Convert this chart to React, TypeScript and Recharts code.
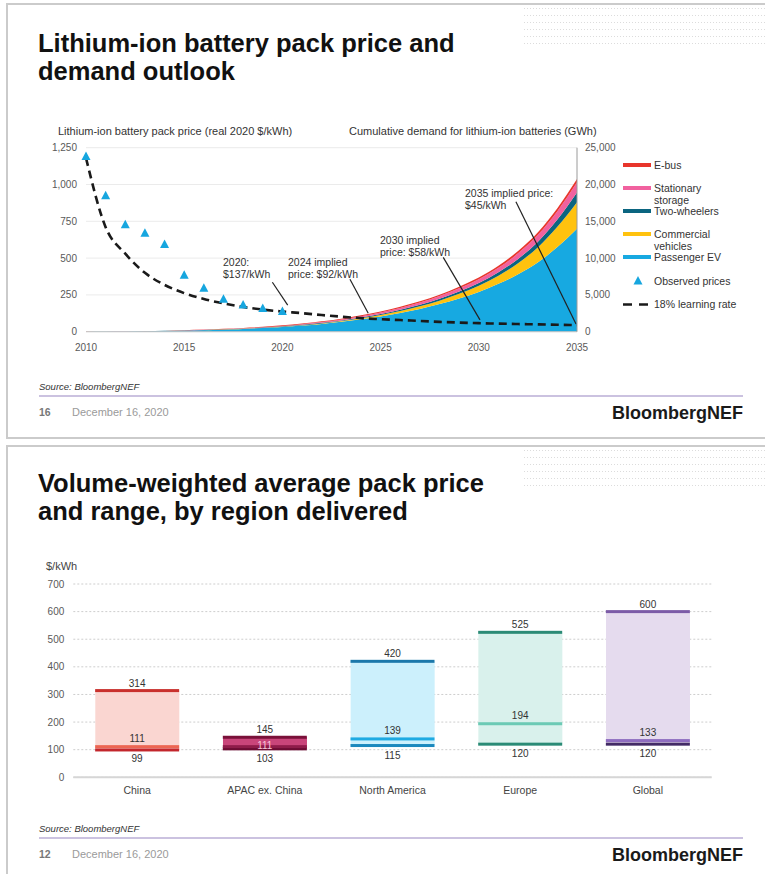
import React from "react"
import {
  ComposedChart,
  Area,
  Line,
  Scatter,
  Bar,
  Cell,
  XAxis,
  YAxis,
  CartesianGrid,
  ReferenceLine,
} from "recharts"

// ---- slide 1: pack price and demand outlook ----
const years = [
  2010, 2011, 2012, 2013, 2014, 2015, 2016, 2017, 2018, 2019, 2020, 2021, 2022,
  2023, 2024, 2025, 2026, 2027, 2028, 2029, 2030, 2031, 2032, 2033, 2034, 2035,
]
// cumulative demand, GWh
const passengerEV = [
  5, 15, 30, 55, 90, 135, 195, 270, 370, 490, 640, 830, 1060, 1340, 1680, 2080,
  2550, 3100, 3750, 4520, 5400, 6500, 7800, 9400, 11500, 14000,
]
const commercialVehicles = [
  1, 2, 3, 4, 6, 8, 11, 15, 20, 27, 36, 50, 70, 100, 140, 190, 260, 350, 470,
  630, 830, 1100, 1500, 2050, 2750, 3600,
]
const twoWheelers = [
  3, 6, 10, 14, 18, 23, 28, 34, 40, 47, 55, 65, 78, 95, 115, 140, 170, 205, 250,
  310, 380, 470, 590, 750, 980, 1300,
]
const stationaryStorage = [
  1, 2, 3, 5, 7, 10, 15, 22, 31, 42, 56, 74, 96, 124, 158, 198, 245, 300, 365,
  440, 520, 620, 760, 930, 1150, 1400,
]
const eBus = [
  1, 3, 6, 10, 16, 25, 35, 45, 55, 65, 78, 90, 102, 115, 128, 142, 158, 175, 195,
  220, 245, 275, 310, 350, 400, 450,
]
// $/kWh
const learningRate = [
  1180, 710, 530, 400, 318, 262, 222, 192, 168, 150, 137, 126, 113, 102, 92, 85,
  79, 73, 67, 62, 58, 55, 52, 50, 47, 45,
]
const observedYears = [2010, 2011, 2012, 2013, 2014, 2015, 2016, 2017, 2018, 2019, 2020]
const observedPrices = [1191, 924, 726, 668, 592, 384, 295, 221, 181, 157, 137]

const yearTicks = [2010, 2015, 2020, 2025, 2030, 2035]
const priceTicks = [0, 250, 500, 750, 1000, 1250]
const demandTicks = [0, 5000, 10000, 15000, 20000, 25000]

// leader lines of the callouts, in (year, $/kWh)
const leaders = [
  [2019.49, 336, 2020.27, 181],
  [2023.44, 356, 2024.37, 125],
  [2028.19, 505, 2030.06, 80],
  [2031.89, 883, 2034.95, 52],
]

// ---- slide 2: price range by region ----
const regions = ["China", "APAC ex. China", "North America", "Europe", "Global"]
const minPrice = [99, 103, 115, 120, 120]
const avgPrice = [111, 111, 139, 194, 133]
const maxPrice = [314, 145, 420, 525, 600]
const rangeTicks = [0, 100, 200, 300, 400, 500, 600, 700]
const boundaryTicks = [0, 1, 2, 3, 4, 5]

const boxFill = ["#fad6d1", "#c9457a", "#ccf0fc", "#d9f1ec", "#e5dbee"]
const topColor = ["#c9302c", "#7a1039", "#1b78aa", "#2b8b76", "#7c5ba7"]
const avgColor = ["#ec6652", "#8f1c4a", "#1eaae2", "#6ccab5", "#8f6dc0"]
const lowColor = ["#c3262c", "#6c0c33", "#1b88bd", "#2b8b76", "#432b66"]
const avgLabelColor = ["#333", "#f8c8da", "#333", "#333", "#333"]
const avgLabelDy = [-5, 2.5, -5, -5, -5]

const FONT = "'Liberation Sans', Arial, sans-serif"

const demandRows = years.map((year, i) => ({
  year,
  passengerEV: passengerEV[i],
  commercial: commercialVehicles[i],
  twoWheelers: twoWheelers[i],
  stationary: stationaryStorage[i],
  eBus: eBus[i],
  learning: learningRate[i],
}))
const observedRows = observedYears.map((year, i) => ({ year, price: observedPrices[i] }))

const regionRows = regions.map((region, i) => ({
  region,
  range: [minPrice[i], maxPrice[i]],
  min: minPrice[i],
  avg: avgPrice[i],
  max: maxPrice[i],
}))

function T({
  x,
  y,
  size = 10.5,
  color = "#333",
  lh,
  bold,
  italic,
  children,
}: {
  x: number
  y: number
  size?: number
  color?: string
  lh?: number
  bold?: boolean
  italic?: boolean
  children: React.ReactNode
}) {
  const h = lh ?? Math.round(size * 1.2)
  return (
    <div
      style={{
        position: "absolute",
        left: x,
        top: y - h / 2,
        fontSize: size,
        lineHeight: `${h}px`,
        color,
        whiteSpace: "nowrap",
        fontWeight: bold ? 700 : 400,
        fontStyle: italic ? "italic" : "normal",
      }}
    >
      {children}
    </div>
  )
}

function Frame({ top, height }: { top: number; height: number }) {
  return (
    <>
      <div
        style={{
          position: "absolute",
          left: 6,
          top,
          width: 800,
          height,
          border: "2px solid #cbcbcb",
          boxSizing: "border-box",
        }}
      />
      <svg
        style={{ position: "absolute", left: 524, top: top + 5 }}
        width={245}
        height={40}
      >
        <defs>
          <pattern id={`dots${top}`} width={3} height={7} patternUnits="userSpaceOnUse">
            <rect x={0} y={0} width={1} height={1} fill="#dcdcdc" />
          </pattern>
        </defs>
        <rect x={0} y={0} width={245} height={40} fill={`url(#dots${top})`} />
      </svg>
    </>
  )
}

function Footer({ dy, page }: { dy: number; page: string }) {
  return (
    <>
      <T x={39} y={386 + dy} size={9.5} italic color="#333">
        Source: BloombergNEF
      </T>
      <div
        style={{
          position: "absolute",
          left: 39,
          top: 395 + dy,
          width: 704,
          height: 1.5,
          background: "#cbc2e0",
        }}
      />
      <T x={39} y={412 + dy} size={10.5} color="#777" bold>
        {page}
      </T>
      <T x={72} y={412 + dy} size={11} color="#9a9a9a">
        December 16, 2020
      </T>
      <T x={612} y={413 + dy} size={18} color="#1a1a1a" bold>
        BloombergNEF
      </T>
    </>
  )
}

const triangle = (props: any) => {
  const { cx, cy } = props
  return (
    <polygon
      points={`${cx},${cy - 5} ${cx + 4.5},${cy + 3.5} ${cx - 4.5},${cy + 3.5}`}
      fill="#16a6df"
    />
  )
}

function rangeMark(
  name: string,
  colors: string[],
  labelDy: number[],
  labelColors?: string[]
) {
  return (props: any) => {
    const { cx, cy, index, value } = props
    return (
      <g key={`${name}-${index}`}>
        <rect x={cx - 42} y={cy - 1.5} width={84} height={3} fill={colors[index]} />
        <text
          x={cx}
          y={cy + labelDy[index]}
          textAnchor="middle"
          fontSize={10}
          fill={labelColors ? labelColors[index] : "#333"}
        >
          {value}
        </text>
      </g>
    )
  }
}

const legendItems = [
  { label: ["E-bus"], color: "#e8352b", y: 165 },
  { label: ["Stationary", "storage"], color: "#f1619f", y: 188 },
  { label: ["Two-wheelers"], color: "#0b6580", y: 211 },
  { label: ["Commercial", "vehicles"], color: "#ffc20e", y: 234 },
  { label: ["Passenger EV"], color: "#17a9e1", y: 257 },
]

const tickStyle = { fontSize: 10, fill: "#595959", fontFamily: FONT }

export default function App() {
  return (
    <div
      style={{
        position: "absolute",
        left: 0,
        top: 0,
        width: 765,
        height: 874,
        overflow: "hidden",
        background: "#fff",
        fontFamily: FONT,
      }}
    >
      <Frame top={3} height={436} />
      <Frame top={445} height={440} />

      {/* slide 1 */}
      <div
        style={{
          position: "absolute",
          left: 38,
          top: 29,
          fontSize: 25.5,
          lineHeight: "28px",
          fontWeight: 700,
          color: "#111",
        }}
      >
        Lithium-ion battery pack price and
        <br />
        demand outlook
      </div>
      <T x={58} y={131} size={11}>
        Lithium-ion battery pack price (real 2020 $/kWh)
      </T>
      <T x={349} y={131} size={11}>
        Cumulative demand for lithium-ion batteries (GWh)
      </T>

      <div style={{ position: "absolute", left: 0, top: 0 }}>
        <ComposedChart
          width={765}
          height={370}
          data={demandRows}
          margin={{ top: 147.7, right: 138, bottom: 8.3, left: 0 }}
        >
          <CartesianGrid
            yAxisId="left"
            vertical={false}
            stroke="#ebebeb"
            strokeWidth={1}
          />
          <XAxis
            dataKey="year"
            type="number"
            domain={[2010, 2035]}
            ticks={yearTicks}
            tick={tickStyle}
            tickLine={false}
            tickSize={6}
            tickMargin={6}
            axisLine={{ stroke: "#c4c4c4" }}
            height={30}
          />
          <YAxis
            yAxisId="left"
            width={86}
            domain={[0, 1250]}
            ticks={priceTicks}
            tickFormatter={(v: number) => v.toLocaleString("en-US")}
            tick={tickStyle}
            tickLine={false}
            axisLine={false}
            tickSize={5}
            tickMargin={4}
          />
          <YAxis
            yAxisId="right"
            orientation="right"
            width={50}
            domain={[0, 25000]}
            ticks={demandTicks}
            tickFormatter={(v: number) => v.toLocaleString("en-US")}
            tick={tickStyle}
            tickLine={false}
            axisLine={{ stroke: "#9a9a9a" }}
            tickSize={4}
            tickMargin={4}
          />
          <Area yAxisId="right" type="monotone" dataKey="passengerEV" stackId="d" fill="#17a9e1" fillOpacity={1} stroke="none" isAnimationActive={false} />
          <Area yAxisId="right" type="monotone" dataKey="commercial" stackId="d" fill="#ffc20e" fillOpacity={1} stroke="none" isAnimationActive={false} />
          <Area yAxisId="right" type="monotone" dataKey="twoWheelers" stackId="d" fill="#0b6580" fillOpacity={1} stroke="none" isAnimationActive={false} />
          <Area yAxisId="right" type="monotone" dataKey="stationary" stackId="d" fill="#f1619f" fillOpacity={1} stroke="none" isAnimationActive={false} />
          <Area yAxisId="right" type="monotone" dataKey="eBus" stackId="d" fill="#e8352b" fillOpacity={1} stroke="none" isAnimationActive={false} />
          <Line
            yAxisId="left"
            type="monotone"
            dataKey="learning"
            stroke="#1a1a1a"
            strokeWidth={2.6}
            strokeDasharray="8 5"
            dot={false}
            activeDot={false}
            isAnimationActive={false}
          />
          <Scatter
            yAxisId="left"
            data={observedRows}
            dataKey="price"
            shape={triangle}
            isAnimationActive={false}
          />
          {leaders.map((l, i) => (
            <ReferenceLine
              key={i}
              yAxisId="left"
              segment={[
                { x: l[0], y: l[1] },
                { x: l[2], y: l[3] },
              ]}
              stroke="#222"
              strokeWidth={1.2}
              ifOverflow="visible"
            />
          ))}
        </ComposedChart>
      </div>

      <T x={223} y={262} size={10.5} lh={12.5}>
        2020:
      </T>
      <T x={223} y={274.5} size={10.5} lh={12.5}>
        $137/kWh
      </T>
      <T x={288} y={262} size={10.5} lh={12.5}>
        2024 implied
      </T>
      <T x={288} y={274.5} size={10.5} lh={12.5}>
        price: $92/kWh
      </T>
      <T x={380} y={240} size={10.5} lh={12.5}>
        2030 implied
      </T>
      <T x={380} y={252.5} size={10.5} lh={12.5}>
        price: $58/kWh
      </T>
      <T x={465} y={193} size={10.5} lh={12.5}>
        2035 implied price:
      </T>
      <T x={465} y={205.5} size={10.5} lh={12.5}>
        $45/kWh
      </T>

      {legendItems.map((it) => (
        <React.Fragment key={it.label[0]}>
          <div
            style={{
              position: "absolute",
              left: 623,
              top: it.y - 2,
              width: 28,
              height: 4,
              background: it.color,
            }}
          />
          {it.label.map((s, k) => (
            <T key={s} x={654} y={it.y + k * 12.5} size={10.5} lh={12.5}>
              {s}
            </T>
          ))}
        </React.Fragment>
      ))}
      <svg style={{ position: "absolute", left: 620, top: 274 }} width={40} height={40}>
        <polygon points="18,2 22.5,10.5 13.5,10.5" fill="#16a6df" />
        <line x1={3} y1={30.5} x2={31} y2={30.5} stroke="#1a1a1a" strokeWidth={2.6} strokeDasharray="9 7" />
      </svg>
      <T x={654} y={281} size={10.5}>
        Observed prices
      </T>
      <T x={654} y={304} size={10.5}>
        18% learning rate
      </T>

      <Footer dy={0} page="16" />

      {/* slide 2 */}
      <div
        style={{
          position: "absolute",
          left: 38,
          top: 469,
          fontSize: 25.5,
          lineHeight: "28px",
          fontWeight: 700,
          color: "#111",
        }}
      >
        Volume-weighted average pack price
        <br />
        and range, by region delivered
      </div>
      <T x={46} y={566} size={11} color="#444">
        $/kWh
      </T>

      <div style={{ position: "absolute", left: 0, top: 560 }}>
        <ComposedChart
          width={765}
          height={250}
          data={regionRows}
          margin={{ top: 24, right: 53.3, bottom: 2.7, left: 0 }}
        >
          <CartesianGrid
            vertical={false}
            stroke="#cdcdcd"
            strokeDasharray="2 2"
          />
          <XAxis
            xAxisId="bounds"
            type="number"
            domain={[0, 5]}
            ticks={boundaryTicks}
            tick={() => <g />}
            tickLine={{ stroke: "#c8c8c8", strokeWidth: 1.5 }}
            tickSize={4}
            axisLine={false}
            height={0}
          />
          <XAxis
            dataKey="region"
            tick={{ ...tickStyle, fontSize: 10.5, fill: "#444" }}
            tickLine={false}
            tickSize={5}
            tickMargin={4}
            axisLine={{ stroke: "#d6d6d6", strokeWidth: 2 }}
            height={30}
          />
          <YAxis
            width={73.3}
            domain={[0, 700]}
            ticks={rangeTicks}
            tick={tickStyle}
            tickLine={false}
            axisLine={false}
            tickSize={5}
            tickMargin={4}
          />
          <Bar dataKey="range" barSize={84} isAnimationActive={false}>
            {regionRows.map((r, i) => (
              <Cell key={r.region} fill={boxFill[i]} />
            ))}
          </Bar>
          <Line
            dataKey="min"
            strokeOpacity={0}
            dot={rangeMark("min", lowColor, [12, 13, 13, 13, 13])}
            activeDot={false}
            isAnimationActive={false}
          />
          <Line
            dataKey="avg"
            strokeOpacity={0}
            dot={rangeMark("avg", avgColor, avgLabelDy, avgLabelColor)}
            activeDot={false}
            isAnimationActive={false}
          />
          <Line
            dataKey="max"
            strokeOpacity={0}
            dot={rangeMark("max", topColor, [-4, -4, -4, -4, -4])}
            activeDot={false}
            isAnimationActive={false}
          />
        </ComposedChart>
      </div>

      <Footer dy={442} page="12" />
    </div>
  )
}
